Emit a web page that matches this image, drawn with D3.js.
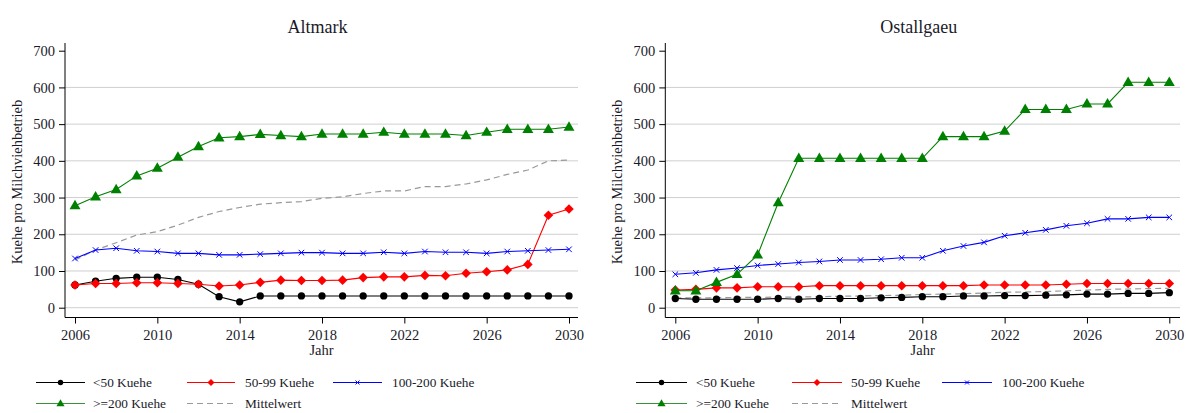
<!DOCTYPE html>
<html><head><meta charset="utf-8">
<script src="https://cdn.jsdelivr.net/npm/d3@7"></script>
<style>body{margin:0;background:#fff}svg{display:block}text{font-family:"Liberation Serif","Times New Roman",serif;fill:#1a1a2a}</style>
</head><body><svg id="c" width="1186" height="413"></svg>
<script>
const years = d3.range(2006, 2031);
const yTicks = [0,100,200,300,400,500,600,700];
const xTicks = [2006,2010,2014,2018,2022,2026,2030];
const regions = ["Altmark","Ostallgaeu"];
const seriesNames = ["<50 Kuehe","50-99 Kuehe","100-200 Kuehe",">=200 Kuehe","Mittelwert"];

const altLt50   = [62,72,80,83,83,77,64,30,16,32,32,32,32,32,32,32,32,32,32,32,32,32,32,32,32];
const alt50_99  = [62,66,66,68,68,66,64,59,62,69,75,74,74,75,82,84,84,88,87,94,98,103,118,252,269];
const alt100_200= [134,157,162,155,153,148,148,144,144,146,148,150,150,148,148,151,148,153,151,151,148,153,155,157,159];
const altGe200  = [278,302,322,359,380,410,439,463,466,472,469,466,473,473,473,478,473,473,473,469,478,486,486,486,492];
const altMean   = [130,157,177,198,207,225,246,262,273,282,286,289,298,302,311,318,318,330,330,337,348,363,375,400,402];

const ostLt50   = [25,23,23,23,23,25,23,25,25,25,27,28,30,30,32,32,33,33,34,35,37,37,39,39,41];
const ost50_99  = [48,50,54,54,57,57,57,60,60,60,60,60,60,60,60,62,62,62,62,64,66,66,66,66,66];
const ost100_200= [91,95,103,108,115,119,123,126,130,130,132,136,136,155,168,178,196,204,212,223,230,242,242,246,246];
const ostGe200  = [46,46,69,91,144,286,407,407,407,407,407,407,407,466,466,466,481,540,540,540,555,555,614,614,614];
const ostMean   = [27,27,27,28,28,29,29,30,31,32,33,34,36,37,38,40,42,43,44,46,48,50,51,52,53];

const styles = [
  {color:"#000000", sym:"circle"},
  {color:"#ff0000", sym:"diamond"},
  {color:"#0000ff", sym:"x"},
  {color:"#008000", sym:"triangle"},
  {color:"#999999", sym:null, dash:"6,4"}
];

const svg = d3.select("#c");

function marker(g, sym, color, x, y, scale){
  scale = scale||1;
  if(sym==="circle"){
    g.append("path").attr("d", d3.symbol(d3.symbolCircle, 42*scale)()).attr("transform",`translate(${x},${y})`).attr("fill",color);
  } else if(sym==="diamond"){
    g.append("path").attr("d", d3.symbol(d3.symbolSquare, 46*scale)()).attr("transform",`translate(${x},${y}) rotate(45)`).attr("fill",color);
  } else if(sym==="triangle"){
    g.append("path").attr("d", d3.symbol(d3.symbolTriangle, 52*scale)()).attr("transform",`translate(${x},${y+0.5})`).attr("fill",color);
  } else if(sym==="x"){
    g.append("path").attr("d", d3.symbol(d3.symbolX, 22*scale)()).attr("transform",`translate(${x},${y})`).attr("fill","none").attr("stroke",color).attr("stroke-width",1);
  }
}

function panel(ax, right, title, data){
  const x = d3.scaleLinear().domain([2006,2030]).range([ax+10, ax+504]);
  const y = d3.scaleLinear().domain([0,700]).range([307.7, 50.7]);
  const g = svg.append("g");
  g.append("g").selectAll("line").data(yTicks.filter(d=>d<700)).join("line")
    .attr("x1",ax).attr("x2",right).attr("y1",d=>y(d)).attr("y2",d=>y(d))
    .attr("stroke","#cfcfcf").attr("stroke-width",1);
  const ya = g.append("g").attr("transform",`translate(${ax},0)`)
    .call(d3.axisLeft(y).tickValues(yTicks).tickSize(6).tickPadding(4).tickSizeOuter(0));
  ya.select(".domain").attr("d",`M0,43V317.5`).attr("stroke","#000");
  ya.selectAll("text").style("font-size","14.5px").style("font-family","Liberation Serif");
  const xa = g.append("g").attr("transform",`translate(0,317.5)`)
    .call(d3.axisBottom(x).tickValues(xTicks).tickFormat(d3.format("d")).tickSize(6).tickPadding(6).tickSizeOuter(0));
  xa.select(".domain").attr("d",`M${ax},0H${right}`).attr("stroke","#000");
  xa.selectAll("text").style("font-size","14.5px").style("font-family","Liberation Serif");
  g.append("text").attr("x",(ax+right)/2-4).attr("y",33).attr("text-anchor","middle").style("font-size","18px").text(title);
  g.append("text").attr("x",(ax+right)/2).attr("y",355).attr("text-anchor","middle").style("font-size","14.5px").text("Jahr");
  g.append("text").attr("transform",`translate(${ax-43},182) rotate(-90)`).attr("text-anchor","middle").style("font-size","14.5px").text("Kuehe pro Milchviehbetrieb");
  const order = [4,0,1,2,3];
  order.forEach(i=>{
    const s = styles[i];
    const line = d3.line().x((d,k)=>x(years[k])).y(d=>y(d));
    g.append("path").datum(data[i]).attr("d",line).attr("fill","none")
      .attr("stroke",s.color).attr("stroke-width",i===4?1.2:1.1).attr("stroke-dasharray",s.dash||null);
    if(s.sym){
      data[i].forEach((v,k)=>marker(g, s.sym, s.color, x(years[k]), y(v)));
    }
  });
}

panel(65, 578, regions[0], [altLt50, alt50_99, alt100_200, altGe200, altMean]);
panel(665.3, 1180, regions[1], [ostLt50, ost50_99, ost100_200, ostGe200, ostMean]);

function legend(cols, rows){
  const lg = svg.append("g");
  seriesNames.forEach((name,i)=>{
    const c = cols[i%3], ry = rows[Math.floor(i/3)];
    const s = styles[i];
    lg.append("line").attr("x1",c[0]).attr("x2",c[1]).attr("y1",ry).attr("y2",ry)
      .attr("stroke",s.color==="#008000"?"#3a923a":s.color).attr("stroke-width",1.2).attr("stroke-dasharray",s.dash||null);
    if(s.sym) marker(lg, s.sym, s.color, (c[0]+c[1])/2, ry, 0.55);
    lg.append("text").attr("x",c[2]).attr("y",ry+4.5).style("font-size","13.3px").text(name);
  });
}
legend([[36,85,93],[187,235,245],[333,382,392]],[382.5,403.5]);
legend([[636,687,696],[792,842,851],[942,992,1002]],[382.5,403.5]);
</script></body></html>
